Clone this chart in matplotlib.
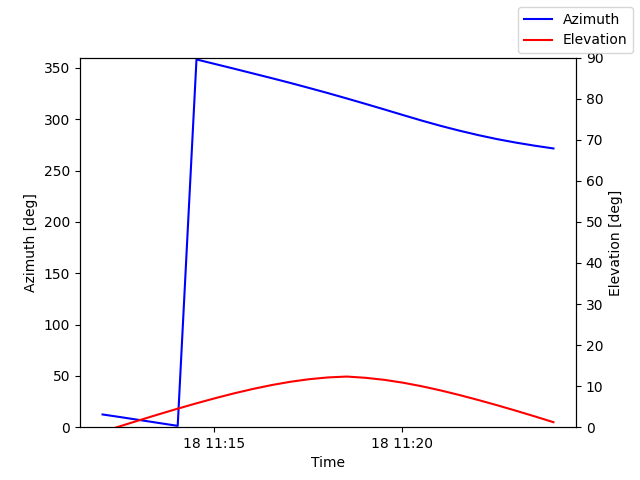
import matplotlib
matplotlib.use('Agg')
import matplotlib.pyplot as plt
import pandas as pd

# samples every 30 s
times = pd.date_range('2021-06-18 11:12:02', periods=25, freq='30s')

azimuth = [12.4, 9.7, 6.9, 4.1, 1.3,
           358.2, 353.7, 349.2, 344.6, 340.0,
           335.3, 330.4, 325.4, 320.2, 314.9,
           309.5, 304.0, 298.6, 293.5, 288.8,
           284.5, 280.6, 277.2, 274.2, 271.5]

elevation = [-1.10, 0.33, 1.75, 3.15, 4.51,
             5.82, 7.07, 8.24, 9.31, 10.26,
             11.06, 11.69, 12.12, 12.33, 12.03,
             11.53, 10.83, 9.96, 8.95, 7.83,
             6.62, 5.35, 4.02, 2.64, 1.22]

fig, ax1 = plt.subplots(figsize=(6.4, 4.8), dpi=100)
ax2 = ax1.twinx()

l1, = ax1.plot(times, azimuth, color='blue', label='Azimuth')
l2, = ax2.plot(times, elevation, color='red', label='Elevation')

ax1.set_ylim(0, 360)
ax2.set_ylim(0, 90)
ax1.set_xlabel('Time')
ax1.set_ylabel('Azimuth [deg]')
ax2.set_ylabel('Elevation [deg]')

fig.legend(handles=[l1, l2])
fig.savefig('out.png')
